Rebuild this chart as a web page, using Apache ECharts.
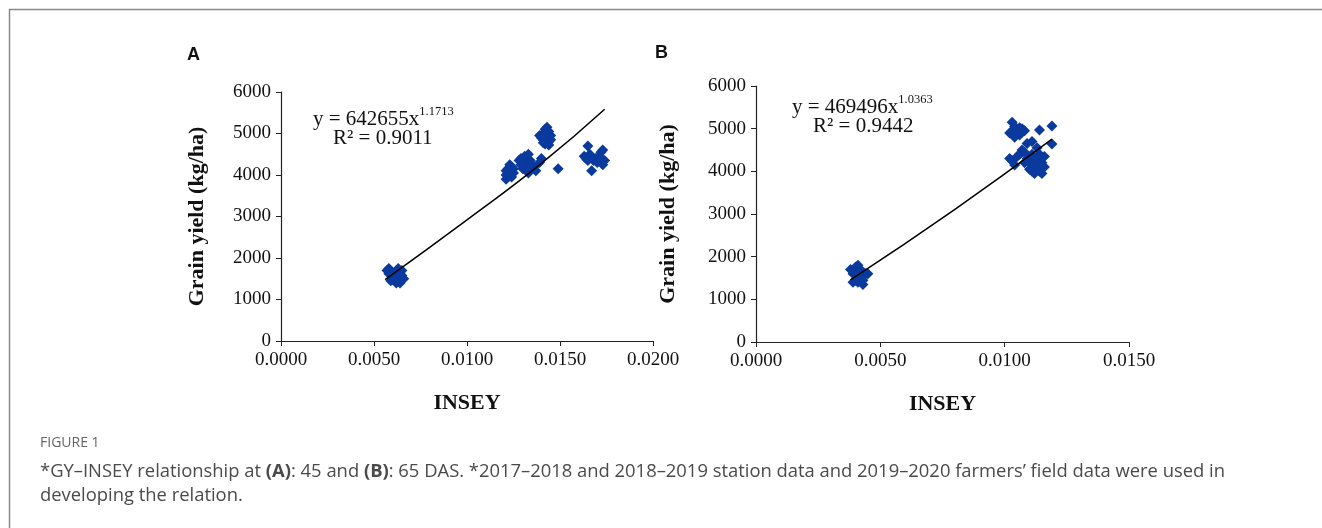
<!DOCTYPE html>
<html><head><meta charset="utf-8">
<script src="https://cdn.jsdelivr.net/npm/echarts@6/dist/echarts.min.js"></script>
<style>html,body{margin:0;padding:0;background:#fff}#c{width:1322px;height:528px}</style>
</head><body><div id="c"></div>
<script>
// Panel A (45 DAS): INSEY vs grain yield (kg/ha)
const pointsA = [
  [0.0057,1700],[0.0058,1750],[0.0059,1450],[0.0060,1600],[0.0062,1400],[0.0063,1500],[0.0064,1650],[0.0065,1700],[0.0066,1500],[0.0064,1400],[0.0061,1550],[0.0063,1750],[0.0058,1620],[0.0060,1480],[0.0065,1580],[0.0062,1680],
  [0.0121,4000],[0.0122,4150],[0.0123,4250],[0.0124,3950],[0.0125,4050],[0.0121,3900],[0.0123,4100],[0.0124,4200],[0.0122,3950],[0.0121,4100],[0.0125,4150],[0.0123,3980],
  [0.0128,4350],[0.0129,4400],[0.0130,4250],[0.0131,4450],[0.0132,4300],[0.0133,4500],[0.0134,4200],[0.0133,4050],[0.0130,4150],[0.0129,4250],[0.0132,4420],[0.0134,4350],
  [0.0136,4200],[0.0137,4100],[0.0139,4300],[0.0140,4400],
  [0.0140,4900],[0.0141,5000],[0.0142,5100],[0.0143,5150],[0.0144,5050],[0.0145,4950],[0.0144,4800],[0.0142,4750],[0.0141,4850],[0.0143,4900],[0.0139,4950],[0.0145,4850],[0.0142,4950],[0.0143,5030],[0.0141,4780],[0.0144,4720],
  [0.0149,4150],
  [0.0163,4450],[0.0164,4400],[0.0165,4700],[0.0166,4500],[0.0167,4100],[0.0168,4350],[0.0169,4400],[0.0170,4300],[0.0171,4450],[0.0172,4550],[0.0173,4600],[0.0174,4350],[0.0173,4250],[0.0165,4350],[0.0167,4420],[0.0171,4350]
];
const trendA = [[0.0056,1480],[0.0100,2920],[0.0140,4280],[0.0174,5585]];

// Panel B (65 DAS)
const pointsB = [
  [0.0038,1700],[0.0040,1750],[0.0042,1700],[0.0041,1400],[0.0043,1350],[0.0039,1400],[0.0044,1600],[0.0042,1550],[0.0040,1450],[0.0045,1600],[0.0041,1800],[0.0043,1450],[0.0039,1600],[0.0041,1620],
  [0.0103,5150],[0.0104,5050],[0.0102,4900],[0.0105,4950],[0.0106,4850],[0.0107,5000],[0.0108,4950],[0.0104,4800],[0.0103,4950],[0.0106,5020],
  [0.0114,4970],[0.0119,5060],[0.0119,4640],
  [0.0102,4300],[0.0103,4250],[0.0104,4150],[0.0105,4350],[0.0106,4400],[0.0107,4500],[0.0108,4450],[0.0109,4300],[0.0110,4200],[0.0110,4050],
  [0.0111,4000],[0.0112,4100],[0.0112,3950],[0.0113,4300],[0.0114,4400],[0.0114,4000],[0.0115,3950],[0.0115,4200],[0.0116,4100],[0.0116,4350],
  [0.0113,4550],[0.0111,4700],[0.0109,4650],[0.0112,4250],[0.0114,4150],[0.0111,4400],[0.0108,4200]
];
// Trend line B (y = 469496x^1.0363)
const trendB = [[0.0038,1456],[0.0080,3110],[0.0119,4755]];

const xTicksA = {min:0, max:0.02, interval:0.005};
const xTicksB = {min:0, max:0.015, interval:0.005};
const yTicks = {min:0, max:6000, interval:1000};

const serif = 'Liberation Serif';
const blue = '#0a3a9e';

function xAxis(idx, t) {
  return {gridIndex: idx, type:'value', min:t.min, max:t.max, interval:t.interval,
    name:'INSEY', nameLocation:'middle', nameGap:51,
    nameTextStyle:{fontFamily:serif, fontWeight:'bold', fontSize:22, color:'#111'},
    axisLine:{show:true, onZero:false, lineStyle:{color:'#222', width:1.2}},
    axisTick:{show:true, length:5, lineStyle:{color:'#222'}},
    splitLine:{show:false},
    axisLabel:{fontFamily:serif, fontSize:19, color:'#111', margin:10, formatter:v=>v.toFixed(4)}};
}
function yAxis(idx, gap) {
  return {gridIndex: idx, type:'value', min:yTicks.min, max:yTicks.max, interval:yTicks.interval,
    name:'Grain yield (kg/ha)', nameLocation:'middle', nameGap:gap,
    nameTextStyle:{fontFamily:serif, fontWeight:'bold', fontSize:22, color:'#111'},
    axisLine:{show:true, lineStyle:{color:'#222', width:1.2}},
    axisTick:{show:true, length:5, lineStyle:{color:'#222'}},
    splitLine:{show:false},
    axisLabel:{fontFamily:serif, fontSize:19, color:'#111', margin:10, formatter:v=>String(v)}};
}

const chart = echarts.init(document.getElementById('c'));
chart.setOption({
  backgroundColor:'#fff',
  animation:false,
  grid:[
    {left:281, right:669, top:92, bottom:187},
    {left:756, right:193, top:86, bottom:186}
  ],
  xAxis:[xAxis(0,xTicksA), xAxis(1,xTicksB)],
  yAxis:[yAxis(0,73), yAxis(1,77)],
  series:[
    {type:'scatter', xAxisIndex:0, yAxisIndex:0, data:pointsA, symbol:'diamond', symbolSize:11, itemStyle:{color:blue, opacity:1}},
    {type:'line', xAxisIndex:0, yAxisIndex:0, data:trendA, smooth:true, showSymbol:false, lineStyle:{color:'#000', width:1.5}, z:3},
    {type:'scatter', xAxisIndex:1, yAxisIndex:1, data:pointsB, symbol:'diamond', symbolSize:11, itemStyle:{color:blue, opacity:1}},
    {type:'line', xAxisIndex:1, yAxisIndex:1, data:trendB, smooth:true, showSymbol:false, lineStyle:{color:'#000', width:1.5}, z:3}
  ],
  graphic:[
    {type:'line', shape:{x1:9, y1:9.5, x2:1322, y2:9.5}, style:{stroke:'#8a8a8a', lineWidth:1.5}},
    {type:'line', shape:{x1:9.5, y1:9, x2:9.5, y2:528}, style:{stroke:'#8a8a8a', lineWidth:1.5}},
    {type:'text', left:187, top:46, style:{text:'A', font:'bold 18px "Liberation Sans"', fill:'#111'}},
    {type:'text', left:655, top:44, style:{text:'B', font:'bold 18px "Liberation Sans"', fill:'#111'}},
    {type:'text', left:313, top:105, style:{text:'{m|y = 642655x}{s|1.1713}', rich:{m:{fontFamily:serif, fontSize:21, fill:'#111', verticalAlign:'bottom'}, s:{fontFamily:serif, fontSize:12.5, fill:'#111', verticalAlign:'top', padding:[0,0,12,0]}}}},
    {type:'text', left:333, top:128, style:{text:'R² = 0.9011', font:'21px "Liberation Serif"', fill:'#111'}},
    {type:'text', left:792, top:93, style:{text:'{m|y = 469496x}{s|1.0363}', rich:{m:{fontFamily:serif, fontSize:21, fill:'#111', verticalAlign:'bottom'}, s:{fontFamily:serif, fontSize:12.5, fill:'#111', verticalAlign:'top', padding:[0,0,12,0]}}}},
    {type:'text', left:813, top:116, style:{text:'R² = 0.9442', font:'21px "Liberation Serif"', fill:'#111'}},
    {type:'text', left:40, top:436, style:{text:'FIGURE 1', font:'14px "Open Sans"', fill:'#666'}},
    {type:'text', left:40, top:463, style:{text:'*GY\u2013INSEY relationship at {b|(A)}: 45 and {b|(B)}: 65 DAS. *2017\u20132018 and 2018\u20132019 station data and 2019\u20132020 farmers\u2019 field data were used in', font:'18.4px "Open Sans"', fill:'#4a4a4a', rich:{b:{fontFamily:'Open Sans', fontWeight:'bold', fontSize:18.4, fill:'#4a4a4a'}}}},
    {type:'text', left:40, top:487, style:{text:'developing the relation.', font:'18.4px "Open Sans"', fill:'#4a4a4a'}}
  ]
});
</script></body></html>
